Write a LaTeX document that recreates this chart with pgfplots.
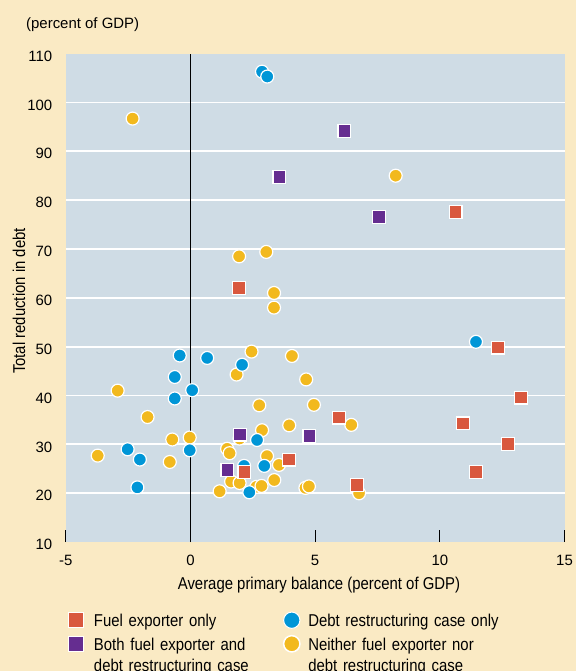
\documentclass[border=0pt]{standalone}
\usepackage{fontspec}
\setmainfont{Liberation Sans}
\newfontfamily\condfont{Liberation Sans}[FakeStretch=0.87]
\usepackage{pgfplots}
\pgfplotsset{compat=1.18}
\definecolor{bgbeige}{HTML}{FAEAC4}
\definecolor{plotbg}{HTML}{CFDCE5}
\definecolor{fuelred}{HTML}{D9583E}
\definecolor{bothpurple}{HTML}{652D90}
\definecolor{debtblue}{HTML}{0096D7}
\definecolor{neitheryellow}{HTML}{F2B91E}
\newcommand{\tickfont}{\fontsize{15}{18}\selectfont}
\newcommand{\labfont}{\condfont\fontsize{17.2}{21.5}\selectfont}
\begin{document}
\begin{tikzpicture}
\path[use as bounding box] (0,0) rectangle (576bp,671bp);
\begin{scope}
\clip (0,0) rectangle (576bp,671bp);
\fill[bgbeige] (0,0) rectangle (576bp,671bp);
\node[anchor=base west, font=\tickfont, inner sep=0pt] at (26bp,642.7bp) {(percent of GDP)};
\begin{axis}[
  at={(65.8bp,128.9bp)}, anchor=south west,
  scale only axis, width=498.7bp, height=488.5bp,
  xmin=-5, xmax=15, ymin=10, ymax=110,
  xtick={-5,0,5,10,15}, ytick={10,20,...,110},
  axis line style={draw=none},
  axis background/.style={fill=plotbg},
  extra y ticks={20,30,...,100}, extra y tick labels={},
  extra y tick style={grid=major, major grid style={white, line width=1.8bp}, tick style={draw=none}},
  tick align=inside, major tick length=12bp,
  xtick pos=left, ytick pos=left,
  y tick style={draw=none}, x tick style={draw=black, line width=1bp},
  xticklabel style={yshift=-9.6bp}, yticklabel style={xshift=-10bp, yshift=-2.5bp},
  tick label style={font=\tickfont},
  /pgf/number format/assume math mode=true,
  xlabel={Average primary balance (percent of GDP)},
  xlabel style={font=\labfont, at={(axis description cs:0.5077,-0.098)}, anchor=base},
  ylabel={Total reduction in debt},
  ylabel style={font=\labfont, at={(axis description cs:-0.094,0.4935)}, anchor=center},
  legend columns=2,
  legend image code/.code={\draw[#1] plot coordinates {(0bp,6.5bp)};},
  legend style={at={(axis description cs:0.0061,-0.1432)}, anchor=north west,
    draw=none, fill=none, inner sep=0bp, outer sep=0bp, font=\labfont,
    cells={anchor=base west}, nodes={text width=175bp, align=left, inner sep=0bp},
    row sep=7.3bp, column sep=0bp,
    /tikz/column 1/.append style={column sep=10.45bp},
    /tikz/column 2/.append style={column sep=14.65bp},
    /tikz/column 3/.append style={column sep=8.35bp},
    /tikz/column 4/.append style={nodes={text width=215bp}}},
]
\addlegendimage{only marks, mark=square*, mark size=7.35bp, mark options={fill=fuelred, draw=white, line width=1bp}}
\addlegendentry{Fuel exporter only}
\addlegendimage{only marks, mark=*, mark size=8.15bp, mark options={fill=debtblue, draw=white, line width=1bp}}
\addlegendentry{Debt restructuring case only}
\addlegendimage{only marks, mark=square*, mark size=7.35bp, mark options={fill=bothpurple, draw=white, line width=1bp}}
\addlegendentry{Both fuel exporter and\newline debt restructuring case}
\addlegendimage{only marks, mark=*, mark size=8.15bp, mark options={fill=neitheryellow, draw=white, line width=1.5bp}}
\addlegendentry{Neither fuel exporter nor\newline debt restructuring case}

\addplot[black, line width=1.1bp, forget plot] coordinates {(0,10) (0,110)};

% Neither fuel exporter nor debt restructuring case
\addplot[only marks, mark=*, mark size=6.5bp, mark options={fill=neitheryellow, draw=white, line width=1.2bp}, forget plot] coordinates {
(2.45,49.0) (4.07,48.1) (1.85,44.3) (4.64,43.3) (-2.92,41.0) (2.76,38.0) (4.95,38.1)
(-1.72,35.6) (2.87,32.9) (3.96,33.9) (6.45,34.0) (-0.73,31.0) (-0.03,31.4) (1.97,31.2)
(-3.72,27.7) (-0.83,26.4) (1.47,29.1) (1.57,28.2) (3.07,27.6) (3.55,25.8) (1.63,22.4)
(1.97,22.1) (1.17,20.4) (2.64,21.3) (2.85,21.5) (3.36,22.7) (4.61,21.1) (4.75,21.4)
(6.76,20.0) (-2.32,96.7) (8.23,85.0) (1.95,68.5) (3.04,69.4) (3.35,61.0) (3.35,58.0)
};
% Debt restructuring case only
\addplot[only marks, mark=*, mark size=6.5bp, mark options={fill=debtblue, draw=white, line width=1.2bp}, forget plot] coordinates {
(2.87,106.3) (3.08,105.3) (-0.43,48.2) (0.67,47.7) (2.07,46.3) (-0.63,43.8) (0.07,41.1)
(-0.63,39.4) (2.67,30.9) (-2.52,29.0) (-2.03,26.9) (-0.03,28.8) (2.96,25.6) (2.15,25.6)
(-2.13,21.2) (2.36,20.2) (11.45,51.0)
};
% Both fuel exporter and debt restructuring case
\addplot[only marks, mark=square*, mark size=6.4bp, mark options={fill=bothpurple, draw=white, line width=1.2bp}, forget plot] coordinates {
(6.17,94.2) (3.57,84.7) (7.56,76.6) (1.99,32.0) (4.77,31.7) (1.48,24.7)
};
% Fuel exporter only
\addplot[only marks, mark=square*, mark size=6.4bp, mark options={fill=fuelred, draw=white, line width=1.2bp}, forget plot] coordinates {
(10.63,77.6) (1.95,62.0) (12.34,49.8) (13.25,39.6) (10.94,34.3) (12.74,30.1) (11.45,24.4)
(5.96,35.5) (6.68,21.7) (3.96,26.9) (2.16,24.3)
};
\end{axis}
\end{scope}
\end{tikzpicture}
\end{document}
